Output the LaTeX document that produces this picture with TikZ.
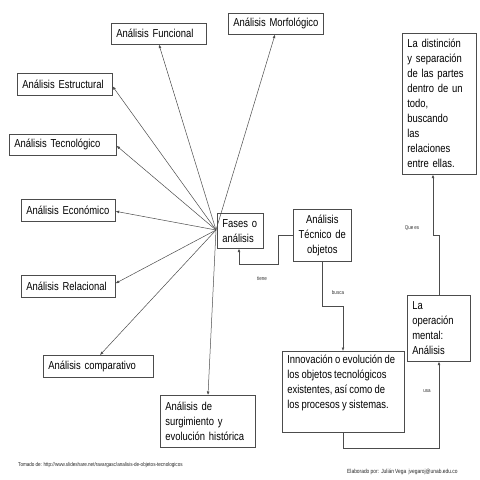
\documentclass[tikz,border=0pt]{standalone}
\usepackage{fontspec}
\setmainfont{Liberation Sans}[FakeStretch=0.82,WordSpace=0.85]
\usetikzlibrary{arrows.meta,calc}
\begin{document}
\begin{tikzpicture}[x=1pt,y=-1pt,
  box/.style={draw=black!70, line width=0.6pt, inner xsep=5pt, inner ysep=2pt,
    anchor=north west, align=left, font=\fontsize{11.5}{15}\selectfont, text=black},
  lbl/.style={font=\fontsize{5.5}{6}\selectfont, text=black!80, inner sep=0pt},
  foot/.style={font=\fontsize{5.6}{6}\selectfont, text=black!85, inner sep=0pt},
  arr/.style={draw=black!70, line width=0.5pt, -{Latex[length=3.5pt,width=2.8pt]}}]
\useasboundingbox[fill=white] (0,0) rectangle (480,480);

% boxes
\node[box, text width=85pt, minimum height=21pt] (fun) at (111,23) {\mbox{Análisis Funcional}};
\node[box, text width=85pt, minimum height=21pt] (mor) at (228,13) {\mbox{Análisis Morfológico}};
\node[box, text width=85pt, minimum height=22pt] (est) at (17,73) {\mbox{Análisis Estructural}};
\node[box, text width=97pt, minimum height=21pt] (tec) at (9,134) {\mbox{Análisis Tecnológico}};
\node[box, text width=84pt, minimum height=22pt] (eco) at (21,199) {\mbox{Análisis Económico}};
\node[box, text width=84pt, minimum height=22pt] (rel) at (21,275) {\mbox{Análisis Relacional}};
\node[box, text width=100pt, minimum height=22pt] (com) at (43,355) {\mbox{Análisis comparativo}};
\node[box, text width=85pt, minimum height=52pt] (sur) at (160,395) {Análisis de\\surgimiento y\\\mbox{evolución histórica}};
\node[box, text width=36pt, minimum height=35pt] (fas) at (217,213) {Fases o\\análisis};
\node[box, text width=48pt, minimum height=52pt, align=center] (tecn) at (293,209) {Análisis\\\mbox{Técnico de}\\objetos};
\node[box, text width=64pt, minimum height=141pt] (dis) at (402,33) {La distinción\\\mbox{y separación}\\\mbox{de las partes}\\\mbox{dentro de un}\\todo,\\buscando\\las\\relaciones\\entre ellas.};
\node[box, text width=53pt, minimum height=66pt] (ope) at (407,295) {La\\operación\\mental:\\Análisis};
\node[box, inner ysep=4pt] (inn) at (282,351) {\parbox[c][73pt][t]{112pt}{\raggedright Innovación o evolución de\\los objetos tecnológicos\\existentes, así como de\\los procesos y sistemas.}};

% hub connectors
\coordinate (hub) at (216,230);
\draw[arr] (hub) -- ([xshift=48pt]fun.south west);
\draw[arr] (hub) -- ([xshift=47pt]mor.south west);
\draw[arr] (hub) -- ([yshift=-2pt]est.east);
\draw[arr] (hub) -- ([yshift=-1pt]tec.east);
\draw[arr] (hub) -- ([yshift=-1pt]eco.east);
\draw[arr] (hub) -- ([yshift=3pt]rel.east);
\draw[arr] (hub) -- ([xshift=57pt]com.north west);
\draw[arr] (hub) -- ([xshift=48pt]sur.north west);

% elbow connectors
\draw[arr] (tecn.west) -| ++(-15,29) -| ([xshift=22pt]fas.south west);
\draw[arr] ([xshift=29pt]tecn.south west) |- ++(21,45) -- ([xshift=61pt]inn.north west);
\draw[arr] ([xshift=61pt]inn.south west) |- ++(96,16) -- ([xshift=32pt]ope.south west);
\draw[arr] ([xshift=32pt]ope.north west) |- ++(-6,-60) -- ([xshift=31pt]dis.south west);

% labels
\node[lbl] (ltiene) at (262,279) {tiene};
\node[lbl] (lbusca) at (338,293) {busca};
\node[lbl] (lusa) at (427,391) {usa};
\node[lbl] (lquees) at (412,228) {Que es};

% footer
\node[foot, anchor=west] (src) at (18,465) {Tomado de: http://www.slideshare.net/ravargasc/analisis-de-objetos-tecnologicos};
\node[foot, anchor=west, font=\fontsize{5.95}{6}\selectfont] (auth) at (347,472) {Elaborado por:\ \ Julián Vega\ \ jvegaroj@unab.edu.co};
\end{tikzpicture}
\end{document}
